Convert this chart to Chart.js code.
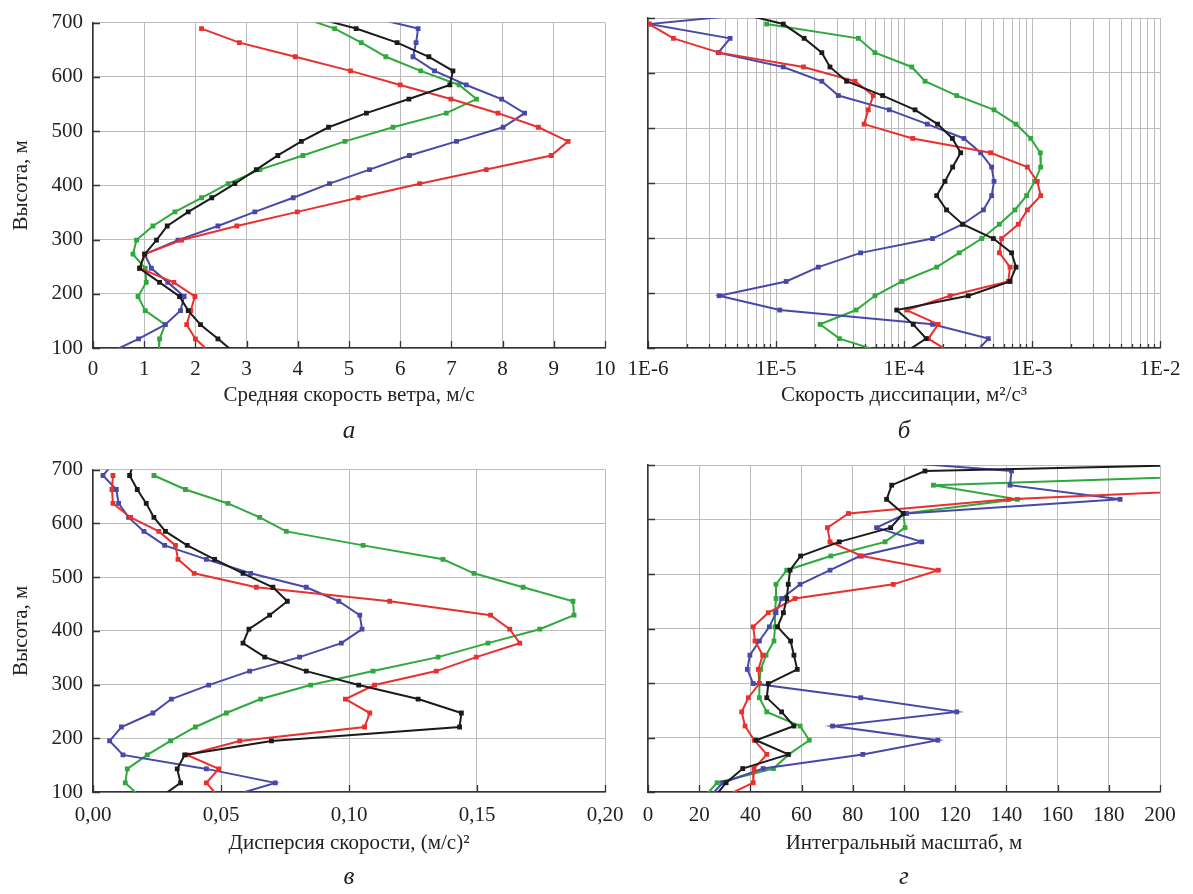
<!DOCTYPE html>
<html>
<head>
<meta charset="utf-8">
<title>Профили пограничного слоя</title>
<script src="https://cdn.jsdelivr.net/npm/chart.js@4.4.0/dist/chart.umd.min.js"></script>
<style>
  body { margin: 0; background: #fff; width: 1193px; height: 894px; position: relative; overflow: hidden; }
  canvas { position: absolute; }
</style>
</head>
<body>
<canvas id="chartWind" width="640" height="450" style="left:0;top:0"></canvas>
<canvas id="chartDiss" width="583" height="450" style="left:610px;top:0"></canvas>
<canvas id="chartVar" width="640" height="447" style="left:0;top:447px"></canvas>
<canvas id="chartScale" width="583" height="447" style="left:610px;top:447px"></canvas>
<script>
// высоты измерений, м (верхняя и нижняя точки выходят за пределы осей)
const heights = [715, 689, 663, 637, 611, 585, 559, 533, 507, 481, 455, 429, 403,
                 377, 351, 325, 299, 273, 247, 221, 195, 169, 143, 117, 91];

// а) средняя скорость ветра, м/с
const windBlack = [4.1, 5.14, 5.94, 6.56, 7.03, 6.97, 6.17, 5.34, 4.60, 4.07, 3.61, 3.19, 2.77,
                   2.32, 1.86, 1.45, 1.24, 1.01, 0.91, 1.30, 1.69, 1.86, 2.10, 2.44, 2.77];
const windRed = [null, 2.12, 2.86, 3.95, 5.03, 6.00, 6.99, 7.91, 8.70, 9.28, 8.95, 7.68, 6.38,
                 5.18, 3.99, 2.81, 1.73, 1.01, 0.91, 1.58, 1.99, 1.91, 1.83, 2.00, 2.3];
const windBlue = [5.2, 6.35, 6.31, 6.25, 6.67, 7.29, 7.98, 8.43, 8.01, 7.10, 6.18, 5.40, 4.62,
                  3.91, 3.16, 2.44, 1.66, 1.01, 1.14, 1.46, 1.78, 1.71, 1.41, 0.89, 0.32];
const windGreen = [3.9, 4.72, 5.24, 5.72, 6.40, 7.15, 7.49, 6.90, 5.86, 4.92, 4.10, 3.26, 2.64,
                   2.12, 1.60, 1.17, 0.85, 0.78, 1.02, 1.04, 0.88, 1.02, 1.41, 1.30, 1.29];

// б) скорость диссипации, м2/с3
const dissBlack = [4.0e-6, 1.14e-5, 1.66e-5, 2.28e-5, 2.64e-5, 3.56e-5, 6.81e-5, 1.22e-4, 1.83e-4, 2.39e-4, 2.77e-4, 2.40e-4, 2.09e-4,
                   1.80e-4, 2.15e-4, 2.87e-4, 4.99e-4, 6.93e-4, 7.50e-4, 6.73e-4, 3.18e-4, 8.77e-5, 1.18e-4, 1.49e-4, 1.0e-4];
const dissRed = [null, 1.02e-6, 1.58e-6, 3.60e-6, 1.64e-5, 4.14e-5, 5.75e-5, 5.26e-5, 4.88e-5, 1.17e-4, 4.75e-4, 9.20e-4, 1.10e-3,
                 1.17e-3, 9.2e-4, 7.82e-4, 5.79e-4, 5.56e-4, 6.73e-4, 6.53e-4, 2.29e-4, 1.05e-4, 1.85e-4, 1.55e-4, 2.35e-4];
const dissBlue = [1.45e-5, 1.02e-6, 4.38e-6, 3.54e-6, 1.14e-5, 2.28e-5, 3.07e-5, 7.67e-5, 1.52e-4, 2.94e-4, 3.97e-4, 4.84e-4, 5.05e-4,
                  4.84e-4, 4.17e-4, 2.87e-4, 1.67e-4, 4.58e-5, 2.14e-5, 1.20e-5, 3.60e-6, 1.07e-5, 1.67e-4, 4.56e-4, 3.59e-4];
const dissGreen = [null, 8.45e-6, 4.40e-5, 5.93e-5, 1.15e-4, 1.46e-4, 2.58e-4, 5.05e-4, 7.50e-4, 9.77e-4, 1.16e-3, 1.17e-3, 1.05e-3,
                   9.08e-4, 7.36e-4, 5.56e-4, 4.05e-4, 2.70e-4, 1.80e-4, 9.6e-5, 5.93e-5, 4.22e-5, 2.21e-5, 3.13e-5, 7.11e-5];

// в) дисперсия скорости, (м/с)2
const varBlack = [0.016, 0.0143, 0.0173, 0.0208, 0.0238, 0.0283, 0.0368, 0.0475, 0.0586, 0.0703, 0.0759, 0.0690, 0.0609,
                  0.0586, 0.0671, 0.0833, 0.1038, 0.1270, 0.1439, 0.1432, 0.0697, 0.0358, 0.0329, 0.0342, 0.0265];
const varRed = [null, 0.0078, 0.0074, 0.0078, 0.0147, 0.0257, 0.0322, 0.0332, 0.0395, 0.0638, 0.1159, 0.1553, 0.1628,
                0.1667, 0.1497, 0.1341, 0.1100, 0.0986, 0.1081, 0.1061, 0.0573, 0.0368, 0.0491, 0.0443, 0.049];
const varBlue = [0.0085, 0.0039, 0.0091, 0.0100, 0.0139, 0.0199, 0.0280, 0.0443, 0.0616, 0.0833, 0.0960, 0.1042, 0.1051,
                 0.0970, 0.0807, 0.0612, 0.0452, 0.0306, 0.0234, 0.0111, 0.0065, 0.0117, 0.0443, 0.0712, 0.053];
const varGreen = [null, 0.0238, 0.0361, 0.0527, 0.0651, 0.0755, 0.1055, 0.1367, 0.1488, 0.1680, 0.1875, 0.1879, 0.1745,
                  0.1543, 0.1348, 0.1094, 0.0850, 0.0655, 0.0521, 0.0400, 0.0303, 0.0212, 0.0134, 0.0126, 0.0185];

// г) интегральный масштаб, м
const scaleBlack = [355, 108.2, 95.2, 93.2, 99.7, 94.8, 74.7, 59.6, 55.5, 54.8, 54.2, 52.9, 50.6,
                    55.7, 57.0, 58.3, 47.0, 46.4, 52.2, 57.0, 42.2, 54.8, 37.0, 30.5, 26];
const scaleRed = [null, null, 265, 140.8, 78.3, 70.1, 71.1, 83.5, 113.4, 95.8, 57.4, 47.0, 41.1,
                  41.8, 44.8, 43.1, 43.5, 39.2, 36.6, 37.9, 41.5, 46.4, 41.4, 41.1, 29.6];
const scaleBlue = [70, 142, 141.4, 184.4, 101, 89.3, 106.9, 82.8, 71.1, 59.4, 52.2, 50, 47.4,
                   43.5, 39.8, 38.8, 41.1, 83.1, 120.6, 72.1, 113.2, 83.9, 45, 29.2, 24];
const scaleGreen = [null, 280, 111.5, 144.3, 99.7, 100.4, 92.6, 71.4, 54.2, 50.0, 50.0, 49.6, 49.6,
                    49.2, 46.1, 44.0, 43.5, 43.5, 46.4, 59.4, 63.0, 55, 49, 27, 22];

const heightTicks = [100, 200, 300, 400, 500, 600, 700];

const COLORS = { black: '#1b1b1b', red: '#e8302f', blue: '#4848a8', green: '#2fa83c' };

Chart.defaults.font.family = '"Liberation Serif", "DejaVu Serif", serif';
Chart.defaults.color = '#222';

function toPoints(values) {
    return heights.map((h, i) => ({ x: values[i], y: h })).filter(p => p.x !== null);
}

function series(values, color) {
    return {
        data: toPoints(values),
        borderColor: color,
        backgroundColor: color,
        borderWidth: 2,
        pointStyle: 'rect',
        pointRadius: 3.4,
        pointBorderWidth: 0,
        showLine: true,
        tension: 0,
    };
}

function isDecade(v) {
    const l = Math.log10(v);
    return Math.abs(l - Math.round(l)) < 1e-9;
}

// короткие засечки внутрь поля графика
const innerTicks = {
    id: 'innerTicks',
    beforeDatasetsDraw(chart) {
        const { ctx, chartArea } = chart;
        const x = chart.scales.x, y = chart.scales.y;
        ctx.save();
        ctx.strokeStyle = '#333';
        ctx.lineWidth = 1.3;
        ctx.beginPath();
        x.ticks.forEach(t => {
            const px = Math.round(x.getPixelForValue(t.value)) + 0.5;
            const len = (x.type === 'logarithmic' && !isDecade(t.value)) ? 4 : 7;
            ctx.moveTo(px, chartArea.bottom);
            ctx.lineTo(px, chartArea.bottom - len);
        });
        y.ticks.forEach(t => {
            const py = Math.round(y.getPixelForValue(t.value)) + 0.5;
            ctx.moveTo(chartArea.left, py);
            ctx.lineTo(chartArea.left + 7, py);
        });
        ctx.stroke();
        ctx.restore();
    }
};

function buildChart(id, cfg) {
    const fontTick = { size: 21 };
    const fontTitle = { size: 21 };
    const xScale = {
        type: cfg.xType || 'linear',
        min: cfg.xMin,
        max: cfg.xMax,
        grid: { color: '#bcbcbc', lineWidth: 1, drawTicks: false },
        border: { display: true, color: '#333', width: 1.5 },
        ticks: {
            font: fontTick,
            padding: cfg.tickPad,
            maxRotation: 0,
            autoSkip: false,
            callback: cfg.xLabel,
        },
        title: { display: true, text: cfg.xTitle, font: fontTitle, padding: { top: 0, bottom: cfg.titlePad } },
        afterFit: s => { s.height = cfg.xHeight; },
    };
    if (cfg.xTicks) {
        xScale.afterBuildTicks = s => { s.ticks = cfg.xTicks.map(v => ({ value: v })); };
    } else {
        xScale.ticks.stepSize = cfg.xStep;
    }
    new Chart(document.getElementById(id), {
        type: 'scatter',
        data: {
            datasets: [
                series(cfg.data[0], COLORS.black),
                series(cfg.data[1], COLORS.red),
                series(cfg.data[2], COLORS.blue),
                series(cfg.data[3], COLORS.green),
            ],
        },
        options: {
            responsive: false,
            animation: false,
            layout: { padding: { left: 0, right: cfg.padRight, top: 18, bottom: 0 } },
            plugins: {
                legend: { display: false },
                tooltip: { enabled: false },
                title: {
                    display: true,
                    position: 'bottom',
                    fullSize: false,
                    text: cfg.letter,
                    font: { size: 25, style: 'italic', weight: 'normal' },
                    color: '#222',
                    padding: { top: 0, bottom: cfg.letterPad },
                },
            },
            scales: {
                x: xScale,
                y: {
                    type: 'linear',
                    min: 100,
                    max: 700,
                    afterBuildTicks: s => { s.ticks = heightTicks.map(v => ({ value: v })); },
                    grid: { color: '#bcbcbc', lineWidth: 1, drawTicks: false },
                    border: { display: true, color: '#333', width: 1.5 },
                    ticks: { display: cfg.showY, font: fontTick, padding: 10 },
                    title: { display: cfg.showY, text: 'Высота, м', font: fontTitle, padding: { top: 9, bottom: 0 } },
                    afterFit: s => { s.width = cfg.yWidth; },
                },
            },
        },
        plugins: [innerTicks],
    });
}

// деления логарифмической оси: 1..9 в каждой декаде
const dissTicks = [];
for (let e = -6; e < -2; e++) {
    for (let m = 1; m < 10; m++) dissTicks.push(m * Math.pow(10, e));
}
dissTicks.push(1e-2);

buildChart('chartWind', {
    data: [windBlack, windRed, windBlue, windGreen],
    xMin: 0, xMax: 10, xStep: 1,
    xLabel: v => String(v),
    xTitle: 'Средняя скорость ветра, м/с',
    letter: 'а',
    showY: true, yWidth: 93, padRight: 35,
    xHeight: 68.4, tickPad: 9, titlePad: 8, letterPad: 3.6,
});

buildChart('chartDiss', {
    data: [dissBlack, dissRed, dissBlue, dissGreen],
    xType: 'logarithmic', xMin: 1e-6, xMax: 1e-2, xTicks: dissTicks,
    xLabel: v => isDecade(v) ? '1E' + Math.round(Math.log10(v)) : '',
    xTitle: 'Скорость диссипации, м²/с³',
    letter: 'б',
    showY: false, yWidth: 38, padRight: 33,
    xHeight: 68.4, tickPad: 9, titlePad: 8, letterPad: 3.6,
});

buildChart('chartVar', {
    data: [varBlack, varRed, varBlue, varGreen],
    xMin: 0, xMax: 0.2, xStep: 0.05,
    xLabel: v => v.toFixed(2).replace('.', ','),
    xTitle: 'Дисперсия скорости, (м/с)²',
    letter: 'в',
    showY: true, yWidth: 93, padRight: 35,
    xHeight: 70.4, tickPad: 11, titlePad: 6, letterPad: 1.6,
});

buildChart('chartScale', {
    data: [scaleBlack, scaleRed, scaleBlue, scaleGreen],
    xMin: 0, xMax: 200, xStep: 20,
    xLabel: v => String(v),
    xTitle: 'Интегральный масштаб, м',
    letter: 'г',
    showY: false, yWidth: 38, padRight: 33,
    xHeight: 70.4, tickPad: 11, titlePad: 6, letterPad: 1.6,
});
</script>
</body>
</html>
